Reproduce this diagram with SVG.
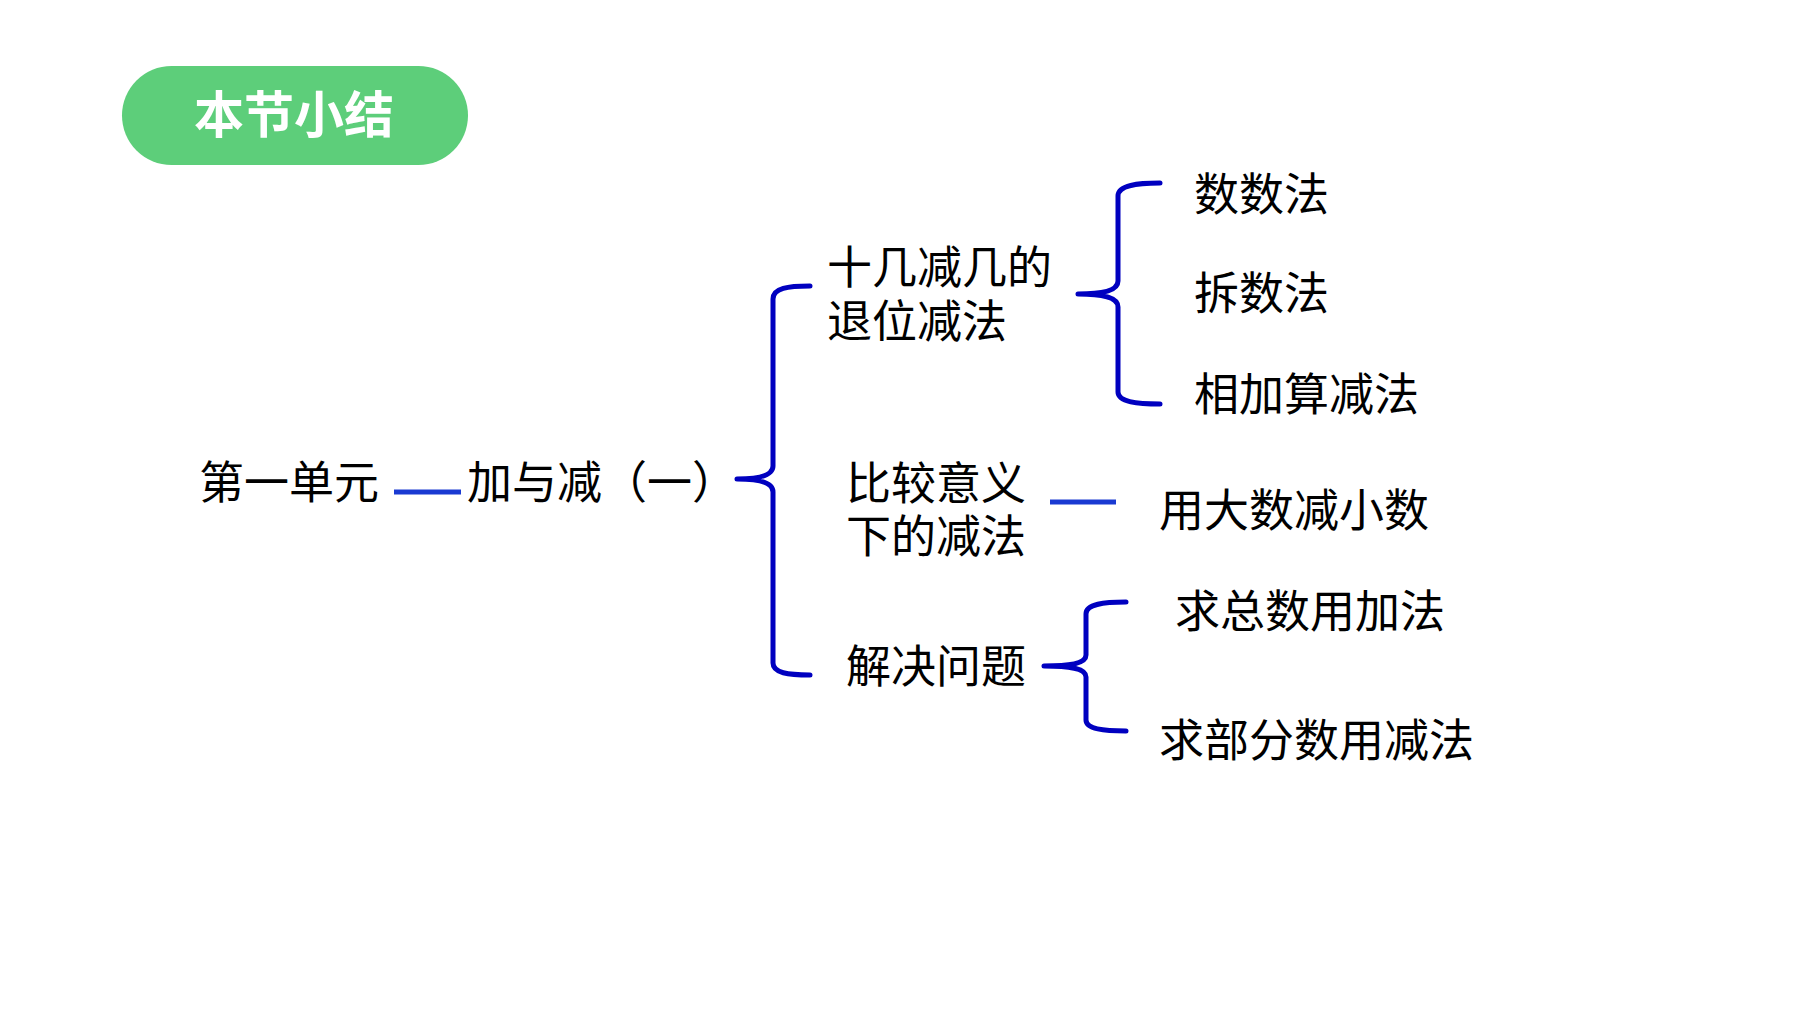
<svg xmlns="http://www.w3.org/2000/svg" width="1800" height="1012" viewBox="0 0 1800 1012">
<style>
.t{font-family:"Noto Sans CJK SC","Microsoft YaHei",sans-serif;font-size:45px;fill:#000}
.title{font-family:"Noto Sans CJK SC",sans-serif;font-size:50px;font-weight:bold;fill:#fff}
.brace{fill:none;stroke:#0000C0;stroke-width:5;stroke-linecap:round;stroke-linejoin:round}
.link{stroke:#1A3AD2;stroke-width:5}
</style>
<rect width="1800" height="1012" fill="#fff"/>
<g id="title">
<rect x="122" y="66" width="346" height="99" rx="49.5" fill="#5DCE7A"/>
<text class="title" x="294" y="133" text-anchor="middle">本节小结</text>
</g>
<g id="root"><text class="t" x="199" y="499">第一单元</text></g>
<g id="unit"><text class="t" x="467" y="499">加与减（一）</text></g>
<g id="n1"><text class="t" x="827" y="284">十几减几的</text><text class="t" x="827" y="338">退位减法</text></g>
<g id="n1a"><text class="t" x="1194" y="211">数数法</text></g>
<g id="n1b"><text class="t" x="1194" y="310">拆数法</text></g>
<g id="n1c"><text class="t" x="1194" y="411">相加算减法</text></g>
<g id="n2"><text class="t" x="846" y="500">比较意义</text><text class="t" x="846" y="553">下的减法</text></g>
<g id="n2a"><text class="t" x="1159" y="527">用大数减小数</text></g>
<g id="n3"><text class="t" x="846" y="683">解决问题</text></g>
<g id="n3a"><text class="t" x="1175" y="628">求总数用加法</text></g>
<g id="n3b"><text class="t" x="1159" y="757">求部分数用减法</text></g>
<g id="connectors">
<line class="link" x1="394" y1="492" x2="461" y2="492"/>
<line class="link" x1="1050" y1="502" x2="1116" y2="502"/>
<path class="brace" d="M810,286 C788,286 773,288 773,299 L773,466 C773,475 760,479 737,479 C760,479 773,483 773,492 L773,663 C773,673 788,675 810,675"/>
<path class="brace" d="M1160,183 C1138,183 1118,185 1118,196 L1118,281 C1118,290 1105,294 1078,294 C1105,294 1118,298 1118,307 L1118,392 C1118,402 1138,404 1160,404"/>
<path class="brace" d="M1126,602 C1104,602 1086,604 1086,614 L1086,655 C1086,663 1072,666 1044,666 C1072,666 1086,669 1086,677 L1086,720 C1086,729 1104,731 1126,731"/>
</g>
</svg>
